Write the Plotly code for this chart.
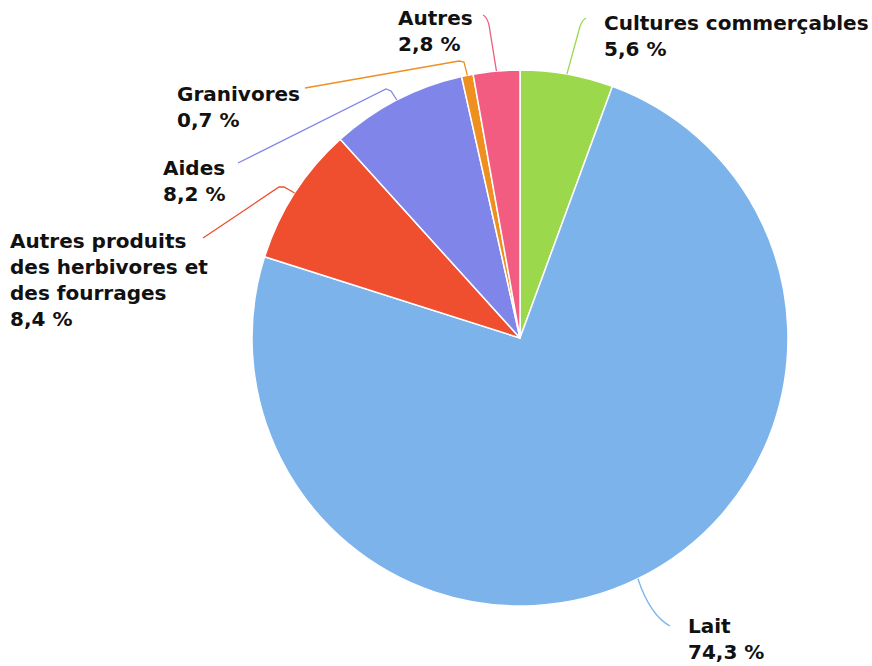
import math
import plotly.graph_objects as go

# ---- data ----
categories = ["Cultures commerçables", "Lait", "Autres produits des herbivores et des fourrages",
              "Aides", "Granivores", "Autres"]
label_texts = ["Cultures commerçables", "Lait", "Autres produits<br>des herbivores et<br>des fourrages",
               "Aides", "Granivores", "Autres"]
values = [5.6, 74.3, 8.4, 8.2, 0.7, 2.8]
colors = ["#9bd84c", "#7cb3eb", "#ef4f2e", "#8085e9", "#ef8f1f", "#f15c80"]

# ---- layout constants (page pixels) ----
W, H = 872, 666
CX, CY, R = 520, 338, 268

# label block: left x, vertical centre y
label_pos = [(603, 36), (687, 639), (9, 280), (162, 181), (176, 107), (397, 31)]
# connector waypoints after the slice-edge start point; "Q" marks quadratic control pairs
connectors = [
    [("L", 579, 30), ("Q", 581, 21, 586, 18)],
    [("Q", 650, 615, 670, 626)],
    [("L", 284, 187), ("L", 279, 187), ("L", 203, 238)],
    [("L", 391, 91), ("L", 386, 89), ("L", 238, 163)],
    [("L", 464, 62), ("L", 459, 61), ("L", 305, 88)],
    [("L", 489, 25), ("Q", 487, 17, 483, 15)],
]


def px(x):
    return x / W


def py(y):
    return 1 - y / H


def fmt(v):
    return f"{v:.1f}".replace(".", ",") + " %"


fig = go.Figure(go.Pie(
    labels=categories,
    values=values,
    sort=False,
    direction="clockwise",
    rotation=0,
    marker=dict(colors=colors, line=dict(color="#ffffff", width=1.5)),
    textinfo="none",
    showlegend=False,
    domain=dict(x=[px(CX - R), px(CX + R)], y=[py(CY + R), py(CY - R)]),
))

total = sum(values)
cum = 0
shapes = []
annotations = []
for i, v in enumerate(values):
    mid = (cum + v / 2) / total * 2 * math.pi
    cum += v
    sx = CX + R * math.sin(mid)
    sy = CY - R * math.cos(mid)
    path = f"M {px(sx)},{py(sy)}"
    for seg in connectors[i]:
        if seg[0] == "L":
            path += f" L {px(seg[1])},{py(seg[2])}"
        else:
            path += f" Q {px(seg[1])},{py(seg[2])} {px(seg[3])},{py(seg[4])}"
    shapes.append(dict(type="path", xref="paper", yref="paper", path=path,
                       line=dict(color=colors[i], width=1.3)))
    lx, ly = label_pos[i]
    annotations.append(dict(
        x=px(lx), y=py(ly), xref="paper", yref="paper",
        xanchor="left", yanchor="middle", align="left", showarrow=False,
        borderpad=0,
        text=f"{label_texts[i]}<br>{fmt(v)}",
        font=dict(family="DejaVu Sans", size=20, color="#111111", weight="bold"),
    ))

fig.update_layout(
    width=W, height=H,
    margin=dict(l=0, r=0, t=0, b=0),
    paper_bgcolor="#ffffff",
    shapes=shapes,
    annotations=annotations,
)

fig.write_html(
    "out.html",
    config={"displayModeBar": False},
    post_script="document.body.style.margin='0';document.documentElement.style.overflow='hidden';",
)
